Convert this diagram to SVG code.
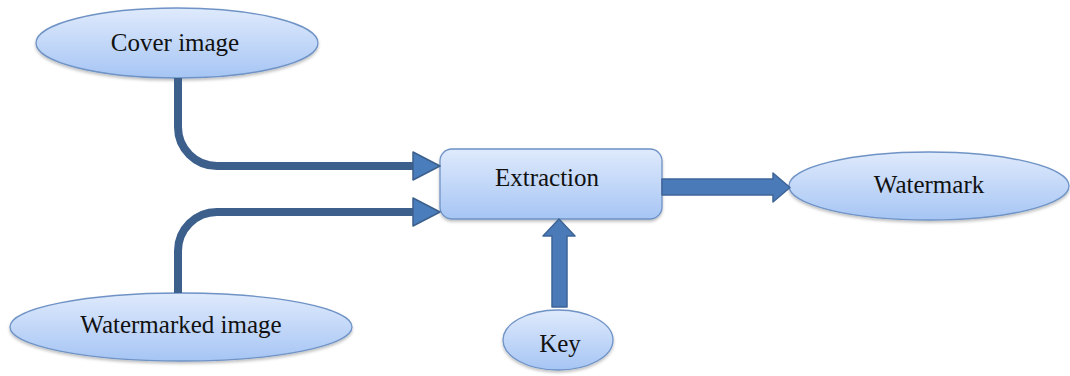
<svg xmlns="http://www.w3.org/2000/svg" width="1070" height="376" viewBox="0 0 1070 376">
<defs>
<linearGradient id="g" x1="0" y1="0" x2="0" y2="1">
<stop offset="0" stop-color="#dfeafc"/>
<stop offset="1" stop-color="#a6c5f4"/>
</linearGradient>
<filter id="sh" x="-10%" y="-10%" width="120%" height="130%">
<feDropShadow dx="0" dy="2" stdDeviation="1.5" flood-color="#000" flood-opacity="0.25"/>
</filter>
</defs>
<style>
.n{fill:url(#g);stroke:#6f93c6;stroke-width:1.3;filter:url(#sh)}
.t{font-family:'Liberation Serif','Times New Roman','DejaVu Serif',serif;font-size:25px;fill:#111;text-anchor:middle}
.c{fill:none;stroke:#3c5f8c;stroke-width:8}
.h{fill:#4a7dbb;stroke:#3c5f8c;stroke-width:1.5;stroke-linejoin:round}
.b{fill:#4a7ab8;stroke:#3e6496;stroke-width:1.5;stroke-linejoin:round}
</style>
<rect width="1070" height="376" fill="#fff"/>
<g id="cover">
<ellipse class="n" cx="177" cy="43" rx="141" ry="35"/>
<text class="t" x="175" y="51" font-family="Liberation Serif, serif">Cover image</text>
</g>
<g id="watermarked">
<ellipse class="n" cx="181" cy="327" rx="171" ry="34"/>
<text class="t" x="181" y="333" font-family="Liberation Serif, serif">Watermarked image</text>
</g>
<g id="extraction">
<rect class="n" x="440" y="149" width="222" height="70" rx="12"/>
<text class="t" x="547" y="186" font-family="Liberation Serif, serif">Extraction</text>
</g>
<g id="watermark">
<ellipse class="n" cx="929" cy="186" rx="140" ry="34"/>
<text class="t" x="929" y="193" font-family="Liberation Serif, serif">Watermark</text>
</g>
<g id="key">
<ellipse class="n" cx="558" cy="340" rx="55" ry="30"/>
<text class="t" x="560" y="352" font-family="Liberation Serif, serif">Key</text>
</g>
<g id="connectors">
<path class="c" d="M178 78 V127 A39 39 0 0 0 217 166 H414"/>
<polygon class="h" points="413,152 440,166 413,180"/>
<path class="c" d="M178 293 V251 A39 39 0 0 1 217 212 H414"/>
<polygon class="h" points="413,198 440,212 413,226"/>
<polygon class="b" points="662,179 773,179 773,173 790,187.5 773,202 773,195 662,195"/>
<polygon class="b" points="552,307 552,236 543,236 559,219 575,236 567,236 567,307"/>
</g>
</svg>
